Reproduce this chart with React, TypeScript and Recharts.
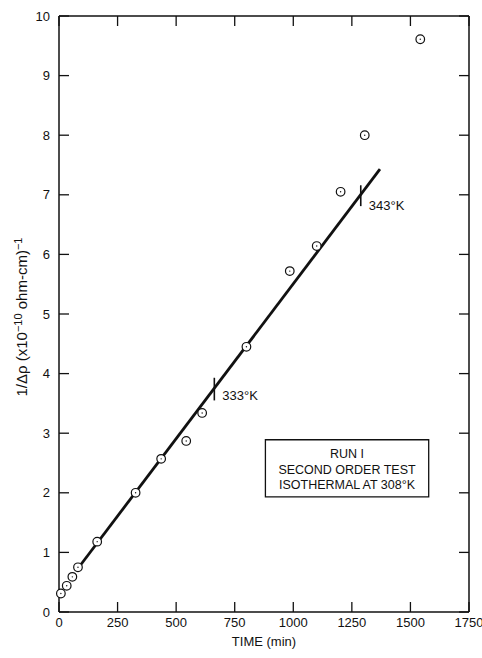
import React from "react";
import {
  ComposedChart,
  Scatter,
  XAxis,
  YAxis,
  ReferenceLine,
  ReferenceArea,
} from "recharts";

// measured points (time in min, 1/Δρ in 1e-10 ohm-cm^-1)
const times = [8, 33, 57, 81, 163, 327, 436, 543, 611, 800, 985, 1100, 1202, 1305, 1542];
const values = [0.31, 0.44, 0.59, 0.75, 1.18, 2.0, 2.57, 2.87, 3.34, 4.45, 5.72, 6.14, 7.05, 8.0, 9.61];

// straight-line fit end points
const fitTimes = [75, 1370];
const fitValues = [0.7, 7.43];

// temperature markers on the fit line
const markerLabels = ["333°K", "343°K"];
const markerTimes = [663, 1288];
const markerLows = [3.55, 6.81];
const markerHighs = [3.93, 7.16];

// note box corners and text
const boxTimes = [881, 1578];
const boxValues = [1.93, 2.89];
const boxLines = ["RUN I", "SECOND ORDER TEST", "ISOTHERMAL AT 308°K"];

const xTicks = [0, 250, 500, 750, 1000, 1250, 1500, 1750];
const yTicks = [0, 1, 2, 3, 4, 5, 6, 7, 8, 9, 10];

const FONT = "'Liberation Sans', Arial, sans-serif";
const TICK = 10;

const data = times.map((t, i) => ({ time: t, value: values[i] }));

const OpenCircle = (props: any) => {
  const { cx, cy } = props;
  return (
    <g>
      <circle cx={cx} cy={cy} r={4.3} fill="#fff" stroke="#111" strokeWidth={1.2} />
      <circle cx={cx} cy={cy} r={0.7} fill="#111" />
    </g>
  );
};

const NoMark = () => <g />;
const NoTick = () => <g />;

// mirrored axes put the tick lines inside the frame; the text is pushed back out
const BottomTick = (props: any) => {
  const { x, y, payload } = props;
  return (
    <text x={x} y={y + TICK + 15} textAnchor="middle" fontSize={13} fontFamily={FONT} fill="#111">
      {payload.value}
    </text>
  );
};

const LeftTick = (props: any) => {
  const { x, y, payload } = props;
  return (
    <text x={x - TICK - 9} y={y} dy="0.36em" textAnchor="end" fontSize={13} fontFamily={FONT} fill="#111">
      {payload.value}
    </text>
  );
};

const markerLabel = (text: string, dy: number) => (props: any) => {
  const vb = props.viewBox;
  return (
    <text
      x={vb.x + 8}
      y={vb.y + vb.height / 2 + dy}
      dy="0.36em"
      fontSize={13}
      fontFamily={FONT}
      fill="#111"
    >
      {text}
    </text>
  );
};

const markerOffsets = [6, 10];

const axisStyle = { stroke: "#111", strokeWidth: 1.5 };
const tickStyle = { stroke: "#111", strokeWidth: 1.3 };

export default function App() {
  return (
    <div style={{ position: "absolute", left: 0, top: 0, background: "#fff" }}>
      <ComposedChart
        width={482}
        height={658}
        data={data}
        margin={{ top: 16, right: 13, bottom: 46, left: 59 }}
      >
        <XAxis
          type="number"
          dataKey="time"
          domain={[0, 1750]}
          ticks={xTicks}
          interval={0}
          mirror
          height={TICK}
          tickSize={TICK}
          tickMargin={0}
          tickLine={tickStyle}
          tick={<BottomTick />}
          axisLine={axisStyle}
          label={(props: any) => {
            const vb = props.viewBox;
            return (
              <text
                x={vb.x + vb.width / 2}
                y={vb.y + vb.height + 34}
                textAnchor="middle"
                fontSize={13}
                fontFamily={FONT}
                fill="#111"
              >
                TIME (min)
              </text>
            );
          }}
        />
        <XAxis
          xAxisId="top"
          orientation="top"
          type="number"
          dataKey="time"
          domain={[0, 1750]}
          ticks={xTicks}
          interval={0}
          mirror
          height={TICK}
          tickSize={TICK}
          tickLine={tickStyle}
          tick={<NoTick />}
          axisLine={axisStyle}
        />
        <YAxis
          type="number"
          dataKey="value"
          domain={[0, 10]}
          ticks={yTicks}
          interval={0}
          mirror
          width={TICK}
          tickSize={TICK}
          tickMargin={0}
          tickLine={tickStyle}
          tick={<LeftTick />}
          axisLine={axisStyle}
          label={(props: any) => {
            const vb = props.viewBox;
            const cx = vb.x - 32;
            const cy = vb.y + vb.height / 2 + 3;
            return (
              <text
                x={cx}
                y={cy}
                transform={`rotate(-90 ${cx} ${cy})`}
                textAnchor="middle"
                fontSize={15}
                fontFamily={FONT}
                fill="#111"
              >
                1/Δρ (x10
                <tspan dy={-5} fontSize={11}>−10</tspan>
                <tspan dy={5}> ohm-cm)</tspan>
                <tspan dy={-5} fontSize={11}>−1</tspan>
              </text>
            );
          }}
        />
        <YAxis
          yAxisId="right"
          orientation="right"
          type="number"
          dataKey="value"
          domain={[0, 10]}
          ticks={yTicks}
          interval={0}
          mirror
          width={TICK}
          tickSize={TICK}
          tickLine={tickStyle}
          tick={<NoTick />}
          axisLine={axisStyle}
        />
        <ReferenceLine
          segment={[
            { x: fitTimes[0], y: fitValues[0] },
            { x: fitTimes[1], y: fitValues[1] },
          ]}
          stroke="#111"
          strokeWidth={2.8}
          ifOverflow="visible"
        />
        {markerTimes.map((t, i) => (
          <ReferenceLine
            key={markerLabels[i]}
            segment={[
              { x: t, y: markerLows[i] },
              { x: t, y: markerHighs[i] },
            ]}
            stroke="#111"
            strokeWidth={1.6}
            ifOverflow="visible"
            label={markerLabel(markerLabels[i], markerOffsets[i])}
          />
        ))}
        <ReferenceArea
          x1={boxTimes[0]}
          x2={boxTimes[1]}
          y1={boxValues[0]}
          y2={boxValues[1]}
          fill="#fff"
          fillOpacity={1}
          stroke="#111"
          strokeWidth={1.3}
          ifOverflow="visible"
          label={(props: any) => {
            const vb = props.viewBox;
            const cx = vb.x + vb.width / 2;
            return (
              <g>
                {boxLines.map((line, i) => (
                  <text
                    key={line}
                    x={cx}
                    y={vb.y + 14 + i * 15.5}
                    dy="0.36em"
                    textAnchor="middle"
                    fontSize={12.5}
                    fontFamily={FONT}
                    fill="#111"
                  >
                    {line}
                  </text>
                ))}
              </g>
            );
          }}
        />
        <Scatter
          xAxisId="top"
          yAxisId="right"
          dataKey="value"
          shape={<NoMark />}
          legendType="none"
          isAnimationActive={false}
        />
        <Scatter dataKey="value" shape={<OpenCircle />} isAnimationActive={false} />
      </ComposedChart>
    </div>
  );
}
